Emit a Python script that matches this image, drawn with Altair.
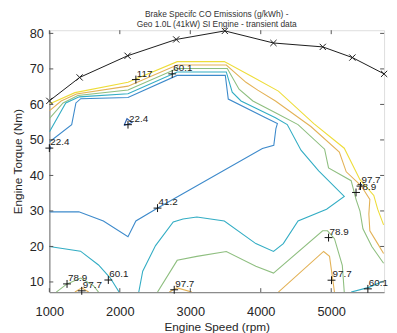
import altair as alt
import pandas as pd

# ---- wide-open-throttle (max torque) curve ----
wot_rpm = [1000, 1430, 2110, 2800, 3490, 4180, 4880, 5300, 5750]
wot_torque = [61.0, 67.6, 73.7, 78.3, 80.7, 77.3, 76.2, 73.2, 68.6]

# ---- contour levels and colours ----
levels = ["22.4", "41.2", "60.1", "78.9", "97.7", "117"]
level_colors = ["#2a5fb0", "#3d8acb", "#33adc4", "#8fbf80", "#e3b257", "#eedd3a"]

# ---- contour polylines (rpm, torque) ----
c117_rpm = [1000, 1363, 2116, 2814, 3483, 3874, 4250, 4753, 5185, 5408, 5604, 5659, 5743]
c117_tq = [60.14, 63.32, 66.23, 72.05, 72.05, 67.89, 63.74, 54.60, 47.67, 38.81, 34.38, 30.50, 26.07]

c977_top_rpm = [1000, 1167, 1384, 2116, 2814, 3511, 3790, 3957, 4209, 4711, 5115, 5213, 5422, 5548, 5534, 5548, 5659, 5743]
c977_top_tq = [58.20, 60.97, 62.91, 65.15, 71.08, 71.08, 66.23, 64.02, 60.97, 53.77, 46.56, 41.02, 37.15, 33.27, 29.11, 24.41, 20.80, 18.03]

c789_top_rpm = [1000, 1195, 1405, 2116, 2814, 3525, 3692, 3888, 4209, 4529, 4906, 4962, 5283, 5352, 5408, 5450, 5576, 5743]
c789_top_tq = [55.98, 60.42, 62.49, 64.07, 70.11, 70.11, 64.29, 60.97, 57.65, 54.32, 47.40, 42.13, 38.53, 33.27, 29.94, 24.96, 19.97, 15.26]

c601_main_rpm = [1000, 1233, 1425, 2116, 2814, 3511, 3595, 3720, 4209, 4376, 4571, 4822, 5185, 4934, 4529, 4320, 4181, 3930, 3483, 3093, 2897, 2758, 2507, 2325, 2269]
c601_main_tq = [52.24, 60.42, 62.13, 63.02, 69.14, 69.14, 63.46, 60.97, 56.26, 54.32, 47.12, 41.30, 34.10, 30.50, 27.17, 20.80, 18.59, 20.80, 27.17, 28.28, 27.73, 26.90, 20.25, 13.05, 7.15]

c412_rpm = [1000, 1317, 1377, 1446, 2116, 2814, 3497, 3539, 4069, 4236, 4215, 4185, 4023, 2507, 2228, 2116, 1767, 1419, 1000]
c412_tq = [49.42, 54.32, 60.42, 61.61, 61.94, 68.17, 68.17, 61.52, 56.26, 54.60, 53.21, 48.50, 47.59, 30.50, 27.17, 22.74, 27.17, 29.75, 29.75]

c601_left_rpm = [1000, 1442, 1698, 1865, 1990]
c601_left_tq = [19.97, 18.67, 14.79, 11.11, 7.15]

c601_right_rpm = [5283, 5534, 5743]
c601_right_tq = [7.15, 8.48, 10.28]

c789_mid_rpm = [2535, 2814, 3093, 3511, 3930, 4181, 4878, 4948, 5046, 5157, 5185]
c789_mid_tq = [7.15, 16.09, 17.20, 18.59, 14.43, 12.49, 24.41, 24.41, 22.19, 14.71, 7.15]

c789_left_rpm = [1098, 1251, 1446, 1628, 1698]
c789_left_tq = [7.15, 9.45, 11.11, 8.89, 7.15]

c977_mid_rpm = [4250, 4892, 4976, 5046]
c977_mid_tq = [7.15, 18.59, 17.20, 7.15]

c977_left_rpm = [1363, 1460, 1558]
c977_left_tq = [7.15, 8.34, 7.15]

c977_bot_rpm = [2702, 2814, 3023]
c977_bot_tq = [7.15, 8.34, 7.15]

c224_tri_rpm = [2060, 2102, 2172, 2060]
c224_tri_tq = [54.04, 55.98, 54.87, 54.04]

c224_left_rpm = [1000, 1021, 1000]
c224_left_tq = [48.50, 47.81, 47.12]

segments = [
    ("117", c117_rpm, c117_tq),
    ("97.7", c977_top_rpm, c977_top_tq),
    ("78.9", c789_top_rpm, c789_top_tq),
    ("60.1", c601_main_rpm, c601_main_tq),
    ("41.2", c412_rpm, c412_tq),
    ("60.1", c601_left_rpm, c601_left_tq),
    ("60.1", c601_right_rpm, c601_right_tq),
    ("78.9", c789_mid_rpm, c789_mid_tq),
    ("78.9", c789_left_rpm, c789_left_tq),
    ("97.7", c977_mid_rpm, c977_mid_tq),
    ("97.7", c977_left_rpm, c977_left_tq),
    ("97.7", c977_bot_rpm, c977_bot_tq),
    ("22.4", c224_tri_rpm, c224_tri_tq),
    ("22.4", c224_left_rpm, c224_left_tq),
]

# ---- contour labels ----
label_text = ["117", "60.1", "22.4", "22.4", "41.2", "97.7", "78.9", "78.9", "97.7", "60.1", "78.9", "97.7", "60.1", "97.7"]
label_rpm = [2228, 2744, 1000, 2116, 2535, 5415, 5352, 4962, 5004, 5520, 1251, 1460, 1837, 2772]
label_tq = [67.0, 68.6, 47.7, 54.3, 30.8, 37.0, 35.2, 22.5, 10.5, 8.06, 9.45, 7.5, 10.55, 7.8]

x_ticks = [1000, 2000, 3000, 4000, 5000]
y_ticks = [10, 20, 30, 40, 50, 60, 70, 80]

rows = []
for i, (lev, xs, ys) in enumerate(segments):
    for j, (x, y) in enumerate(zip(xs, ys)):
        rows.append({"seg": i, "ord": j, "level": lev, "rpm": x, "torque": y})
contours = pd.DataFrame(rows)
wot = pd.DataFrame({"rpm": wot_rpm, "torque": wot_torque, "ord": list(range(len(wot_rpm)))})
labels = pd.DataFrame({"text": label_text, "rpm": label_rpm, "torque": label_tq})
xt = pd.DataFrame({"rpm": x_ticks})
yt = pd.DataFrame({"torque": y_ticks})

FONT = "Liberation Sans"
W, H = 340, 266
xscale = alt.Scale(domain=[1000, 5750], nice=False, zero=False)
yscale = alt.Scale(domain=[7.15, 80.9], nice=False, zero=False)

x_axis = alt.Axis(
    values=x_ticks, format="d", title="Engine Speed (rpm)", ticks=False, grid=False,
    labelFlush=False, labelFontSize=13, labelFont=FONT, labelColor="#262626",
    labelPadding=14, titleFont=FONT, titleFontSize=12, titleFontWeight="normal",
    titleColor="#262626", titlePadding=3, domainColor="#8c8c8c", domainWidth=1.3)
y_axis = alt.Axis(
    values=y_ticks, format="d", title="Engine Torque (Nm)", ticks=False, grid=False,
    labelFontSize=13, labelFont=FONT, labelColor="#262626", labelPadding=6,
    titleFont=FONT, titleFontSize=12, titleFontWeight="normal",
    titleColor="#262626", titlePadding=5, domainColor="#8c8c8c", domainWidth=1.3)

nx = alt.X("rpm:Q", scale=xscale, axis=x_axis)
ny = alt.Y("torque:Q", scale=yscale, axis=y_axis)

lines = alt.Chart(contours).mark_line(strokeWidth=1.1, clip=True).encode(
    x=nx, y=ny,
    color=alt.Color("level:N", scale=alt.Scale(domain=levels, range=level_colors), legend=None),
    detail="seg:N", order="ord:Q")

wot_line = alt.Chart(wot).mark_line(color="#1a1a1a", strokeWidth=1).encode(x=nx, y=ny, order="ord:Q")
wot_pts = alt.Chart(wot).mark_point(shape="M-1,-1L1,1M-1,1L1,-1", size=40, filled=False,
                                    color="#1a1a1a", strokeWidth=1, opacity=1).encode(x=nx, y=ny)

plus = alt.Chart(labels).mark_point(shape="M-1,0L1,0M0,-1L0,1", size=64, filled=False,
                                    color="#111111", strokeWidth=1, opacity=1).encode(x=nx, y=ny)
txt = alt.Chart(labels).mark_text(align="left", baseline="middle", dx=1, dy=-6,
                                  fontSize=10, font=FONT, color="#222222").encode(x=nx, y=ny, text="text:N")

tick_col = "#555555"
tb = alt.Chart(xt).mark_rule(color=tick_col, strokeWidth=1).encode(x=nx, y=alt.value(H), y2=alt.value(H - 4))
tt = alt.Chart(xt).mark_rule(color=tick_col, strokeWidth=1).encode(x=nx, y=alt.value(0), y2=alt.value(4))
tl = alt.Chart(yt).mark_rule(color=tick_col, strokeWidth=1).encode(y=ny, x=alt.value(0), x2=alt.value(4))
tr = alt.Chart(yt).mark_rule(color=tick_col, strokeWidth=1).encode(y=ny, x=alt.value(W), x2=alt.value(W - 4))

chart = alt.layer(lines, wot_line, wot_pts, plus, txt, tb, tt, tl, tr).properties(
    width=W, height=H,
    autosize=alt.AutoSizeParams(type="none"),
    padding={"left": 42, "top": 20, "right": 5, "bottom": 39},
    title=alt.TitleParams(
        text=["Brake Specifc CO Emissions (g/kWh) -", "Geo 1.0L (41kW) SI Engine - transient data"],
        font=FONT, fontSize=8.5, fontWeight="normal", color="#333333",
        anchor="middle", frame="group", offset=2, lineHeight=10, dy=5),
).configure_view(stroke="#a0a0a0", strokeWidth=1).configure(background="white")

chart.save("out.html", embed_options={"renderer": "svg", "actions": False})
